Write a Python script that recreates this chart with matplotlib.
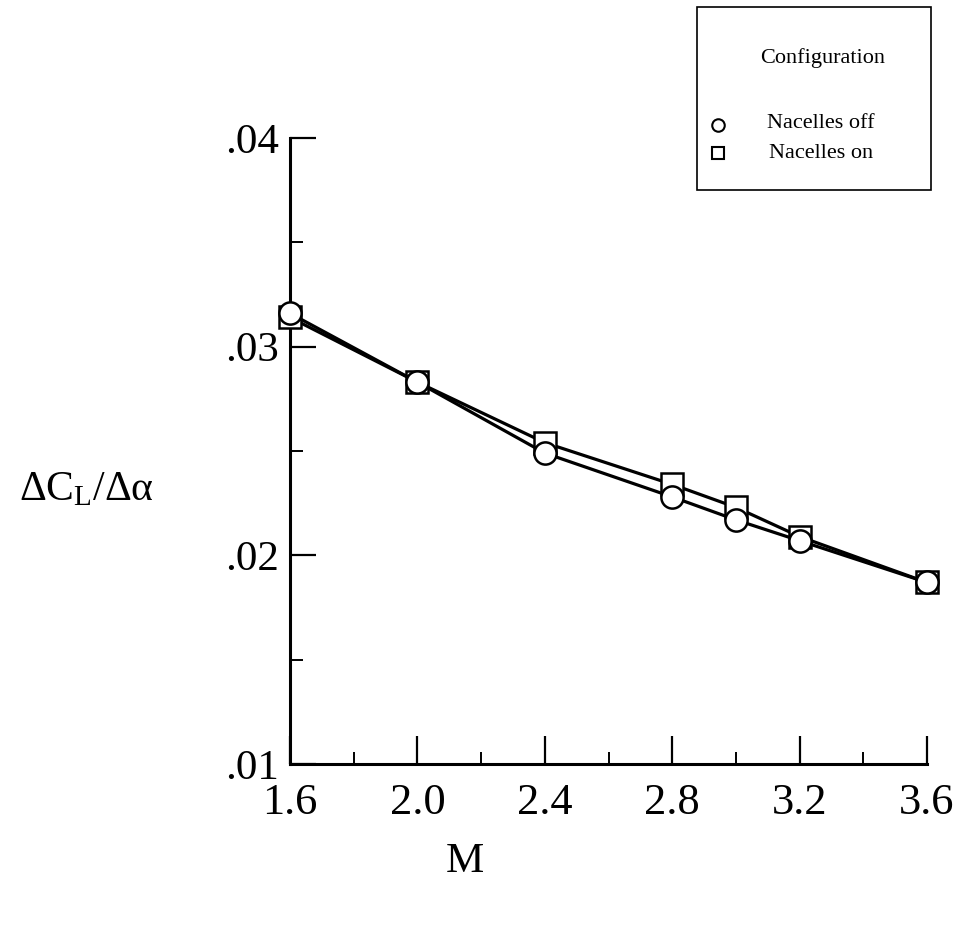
import matplotlib
matplotlib.use("Agg")
import matplotlib.pyplot as plt
from matplotlib.patches import Rectangle
from matplotlib.lines import Line2D
from matplotlib.ticker import MultipleLocator, FixedLocator

plt.rcParams['font.family'] = ['Liberation Serif', 'DejaVu Serif']
plt.rcParams['mathtext.fontset'] = 'custom'
plt.rcParams['mathtext.rm'] = 'Liberation Serif'
plt.rcParams['mathtext.it'] = 'Liberation Serif'

mach = [1.6, 2.0, 2.4, 2.8, 3.0, 3.2, 3.6]
nacelles_off = [0.0316, 0.0283, 0.0249, 0.0228, 0.0217, 0.0207, 0.0187]
nacelles_on = [0.0314, 0.0283, 0.0254, 0.0234, 0.0223, 0.0209, 0.0187]
xticks = [1.6, 2.0, 2.4, 2.8, 3.2, 3.6]
xticklabels = ['1.6', '2.0', '2.4', '2.8', '3.2', '3.6']
yticks = [0.01, 0.02, 0.03, 0.04]
yticklabels = ['.01', '.02', '.03', '.04']
labels = ['Nacelles off', 'Nacelles on']

W, H = 961, 932
fig = plt.figure(figsize=(W / 100, H / 100), dpi=100)
ax = fig.add_axes([290 / W, 1 - 764 / H, (927 - 290) / W, (764 - 138) / H])

ax.plot(mach, nacelles_on, color='black', lw=2.3, marker='s', ms=16.5,
        mfc='white', mec='black', mew=1.8, clip_on=False, zorder=3)
ax.plot(mach, nacelles_off, color='black', lw=2.3, marker='o', ms=16,
        mfc='white', mec='black', mew=1.8, clip_on=False, zorder=4)

ax.set_xlim(1.6, 3.6)
ax.set_ylim(0.01, 0.04)
for s in ['top', 'right']:
    ax.spines[s].set_visible(False)
for s in ['left', 'bottom']:
    ax.spines[s].set_linewidth(2.2)

ax.xaxis.set_major_locator(FixedLocator(xticks))
ax.set_xticklabels(xticklabels)
ax.xaxis.set_minor_locator(MultipleLocator(0.2))
ax.yaxis.set_major_locator(FixedLocator(yticks))
ax.set_yticklabels(yticklabels)
ax.yaxis.set_minor_locator(MultipleLocator(0.005))

ax.tick_params(axis='x', which='major', direction='in', length=20, width=1.6,
               labelsize=32, pad=14)
ax.tick_params(axis='x', which='minor', direction='in', length=9, width=1.4)
ax.tick_params(axis='y', which='major', direction='in', length=19, width=1.6,
               labelsize=31, pad=8)
ax.tick_params(axis='y', which='minor', direction='in', length=9, width=1.4)

fig.text(86 / W, 1 - 490 / H, r'$\Delta\mathrm{C}_{\mathrm{L}}/\Delta\alpha$',
         fontsize=30, ha='center', va='center')
fig.text(465 / W, 1 - 862 / H, 'M', fontsize=31, ha='center', va='center')

# legend box
fig.add_artist(Rectangle((697 / W, 1 - 190 / H), (931 - 697) / W, (190 - 7) / H,
                         transform=fig.transFigure, fill=False,
                         edgecolor='black', lw=1.2))
fig.text(823 / W, 1 - 58 / H, 'Configuration', fontsize=16,
         ha='center', va='center')
fig.text(821 / W, 1 - 124 / H, labels[0], fontsize=16, ha='center', va='center')
fig.text(821 / W, 1 - 153 / H, labels[1], fontsize=16, ha='center', va='center')
fig.add_artist(Line2D([718 / W], [1 - 125 / H], transform=fig.transFigure,
                      marker='o', ms=9, mfc='white', mec='black', mew=1.5, ls='none'))
fig.add_artist(Line2D([718 / W], [1 - 153 / H], transform=fig.transFigure,
                      marker='s', ms=9, mfc='white', mec='black', mew=1.5, ls='none'))

fig.savefig('out.png', dpi=100)
